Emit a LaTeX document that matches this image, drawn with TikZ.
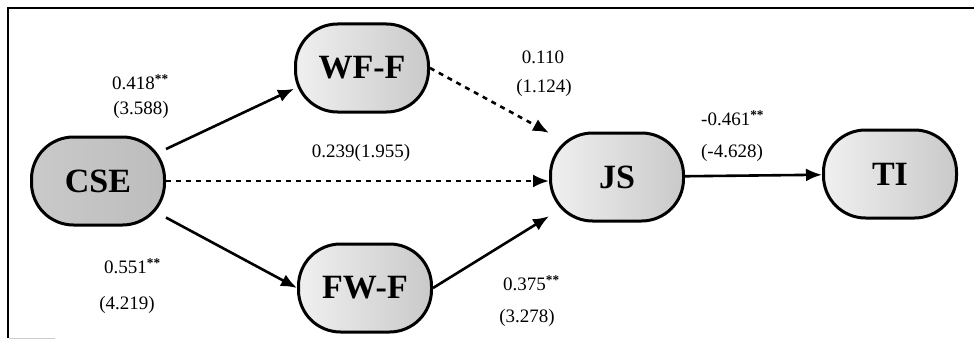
\documentclass[tikz,border=0pt]{standalone}
\usepackage{fontspec}
\setmainfont{Liberation Serif}
\usetikzlibrary{arrows.meta}
\newcommand{\sigstar}{\textsuperscript{\bfseries **}}
\begin{document}
\begin{tikzpicture}[x=1pt,y=-1pt,
  latent/.style={draw=black, line width=3pt, rounded corners=42pt,
    minimum width=133pt, minimum height=88pt, inner sep=0pt,
    font=\fontsize{34}{36}\selectfont\bfseries,
    left color=gray!12, right color=gray!42},
  darklatent/.style={latent, left color=gray!42, right color=gray!52},
  path/.style={line width=2.6pt, -{Latex[length=16pt,width=13pt]}},
  nspath/.style={path, dash pattern=on 5pt off 5pt},
  lab/.style={font=\fontsize{19}{21}\selectfont, inner sep=0pt},
  frame/.style={line width=2pt}
]
\useasboundingbox (0,0) rectangle (974,345);
% frame
\draw[frame] (7,8) -- (974,8);
\draw[frame] (8,8) -- (8,338);
\draw[gray!40, line width=1pt] (9,338) -- (55,338);

% nodes
\node[darklatent] (cse) at (98,181) {CSE};
\node[latent] (wff) at (362,68) {WF-F};
\node[latent] (fwf) at (365,288) {FW-F};
\node[latent] (js) at (617,177) {JS};
\node[latent] (ti) at (890,174) {TI};

% connectors
\draw[path] (cse) -- (wff.197);
\draw[path] (cse) -- (fwf.west);
\draw[nspath] (cse.east) -- (js.west |- cse.east);
\draw[nspath] (wff.east) -- (js.147);
\draw[path] (fwf.east) -- (js.210);
\draw[path] (js) -- (ti);

% labels
\node[lab, anchor=west] (l1) at (112,82) {0.418\sigstar};
\node[lab] (l1b) at (141,110) {(3.588)};
\node[lab, anchor=west] (l2) at (104,266) {0.551\sigstar};
\node[lab] (l2b) at (127,305) {(4.219)};
\node[lab] (l3) at (543,57) {0.110};
\node[lab] (l3b) at (544,88) {(1.124)};
\node[lab] (l4) at (361,153) {0.239(1.955)};
\node[lab, anchor=west] (l5) at (503,283) {0.375\sigstar};
\node[lab] (l5b) at (527,318) {(3.278)};
\node[lab, anchor=west] (l6) at (701,118) {-0.461\sigstar};
\node[lab] (l6b) at (732,153) {(-4.628)};
\end{tikzpicture}
\end{document}
